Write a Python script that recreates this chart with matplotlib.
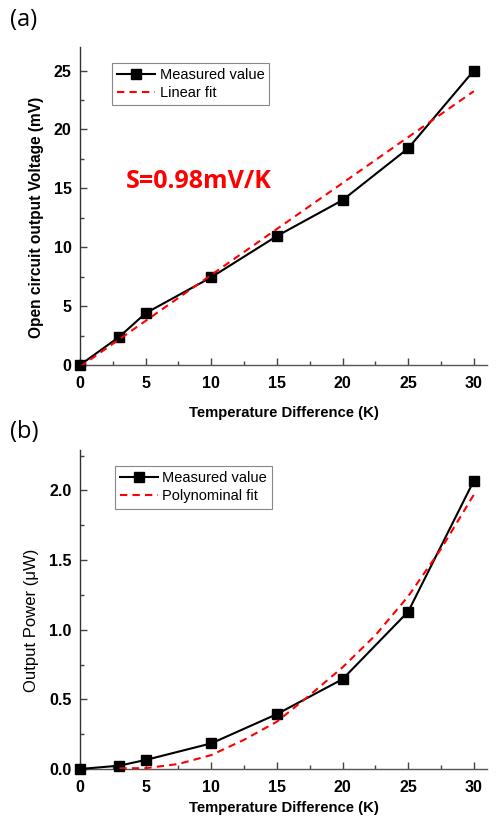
import matplotlib
matplotlib.use("Agg")
import matplotlib.pyplot as plt
from matplotlib.ticker import MultipleLocator

plt.rcParams['font.family'] = ['Liberation Sans', 'DejaVu Sans']

# Panel (a) data
dT_a = [0, 3, 5, 10, 15, 20, 25, 30]
voltage = [0, 2.4, 4.4, 7.45, 10.95, 14.0, 18.4, 25.0]
lin_fit_x = [0, 30]
lin_fit_y = [-0.15, 23.25]

# Panel (b) data
dT_b = [0, 3, 5, 10, 15, 20, 25, 30]
power = [0, 0.024, 0.065, 0.184, 0.394, 0.645, 1.13, 2.07]
poly_fit_x = [3, 5, 7.5, 10, 12.5, 15, 17.5, 20, 22.5, 25, 27.5, 30]
poly_fit_y = [0.005, 0.006, 0.036, 0.10, 0.21, 0.34, 0.53, 0.73, 0.96, 1.24, 1.58, 1.97]

fig = plt.figure(figsize=(4.97, 8.22), dpi=100)
W, H = 497, 822
def box(l, t, r, b):
    return [l / W, 1 - b / H, (r - l) / W, (b - t) / H]

ax1 = fig.add_axes(box(80, 47, 487, 365))
ax2 = fig.add_axes(box(80, 450, 487, 769))

TICK_FS = 11.5

def style(ax, ymax, ymaj, ymin):
    ax.set_xlim(0, 31)
    ax.set_ylim(0, ymax)
    for s in ['top', 'right']:
        ax.spines[s].set_visible(False)
    ax.spines['left'].set_color('#333333')
    ax.spines['bottom'].set_color('#555555')
    ax.spines['left'].set_linewidth(1.0)
    ax.spines['bottom'].set_linewidth(1.0)
    ax.xaxis.set_major_locator(MultipleLocator(5))
    ax.xaxis.set_minor_locator(MultipleLocator(2.5))
    ax.yaxis.set_major_locator(MultipleLocator(ymaj))
    ax.yaxis.set_minor_locator(MultipleLocator(ymin))
    ax.tick_params(which='major', direction='in', length=5, width=1, color='#444444')
    ax.tick_params(axis='x', which='major', pad=8)
    ax.tick_params(axis='y', which='major', pad=6)
    ax.tick_params(which='minor', direction='in', length=3, width=1, color='#444444')

# Panel (a)
ax1.plot(dT_a, voltage, color='black', lw=1.5, marker='s', ms=7, label='Measured value', zorder=3, clip_on=False)
ax1.plot(lin_fit_x, lin_fit_y, color='red', lw=1.5, ls=(0, (3.5, 2.5)), label='Linear fit', zorder=4)
style(ax1, 27, 5, 2.5)
ax1.set_yticks([0, 5, 10, 15, 20, 25])
ax1.set_yticklabels(['0', '5', '10', '15', '20', '25'], fontweight='bold', fontsize=TICK_FS)
ax1.set_xticks([0, 5, 10, 15, 20, 25, 30])
ax1.set_xticklabels(['0', '5', '10', '15', '20', '25', '30'], fontweight='bold', fontsize=TICK_FS)
ax1.set_xlabel('Temperature Difference (K)', fontsize=10.7, fontweight='bold', labelpad=11)
ax1.set_ylabel('Open circuit output Voltage (mV)', fontsize=11.2, fontweight='bold')
ax1.yaxis.set_label_coords(-0.088, 0.465)
leg1 = ax1.legend(loc='upper left', bbox_to_anchor=(0.079, 0.95), borderaxespad=0,
                  fancybox=False, framealpha=1, edgecolor='#888888', fontsize=10.5,
                  handlelength=2.6, handletextpad=0.3, borderpad=0.35, labelspacing=0.3)
leg1.get_frame().set_linewidth(0.8)
ax1.text(9.06, 15.6, 'S=0.98mV/K', color='red', fontsize=18, fontweight='bold',
         family=['Open Sans', 'DejaVu Sans'], ha='center', va='center')

# Panel (b)
ax2.plot(dT_b, power, color='black', lw=1.5, marker='s', ms=7, label='Measured value', zorder=3, clip_on=False)
ax2.plot(poly_fit_x, poly_fit_y, color='red', lw=1.5, ls=(0, (3.5, 2.5)), label='Polynominal fit', zorder=4)
style(ax2, 2.29, 0.5, 0.25)
ax2.set_yticks([0, 0.5, 1.0, 1.5, 2.0])
ax2.set_yticklabels(['0.0', '0.5', '1.0', '1.5', '2.0'], fontweight='bold', fontsize=TICK_FS)
ax2.set_xticks([0, 5, 10, 15, 20, 25, 30])
ax2.set_xticklabels(['0', '5', '10', '15', '20', '25', '30'], fontweight='bold', fontsize=TICK_FS)
ax2.set_xlabel('Temperature Difference (K)', fontsize=10.7, fontweight='bold', labelpad=4)
ax2.set_ylabel('Output Power (\u03bcW)', fontsize=12)
ax2.yaxis.set_label_coords(-0.100, 0.467)
leg2 = ax2.legend(loc='upper left', bbox_to_anchor=(0.086, 0.95), borderaxespad=0,
                  fancybox=False, framealpha=1, edgecolor='#888888', fontsize=10.5,
                  handlelength=2.6, handletextpad=0.3, borderpad=0.35, labelspacing=0.3)
leg2.get_frame().set_linewidth(0.8)

fig.text(10 / W, 1 - 20 / H, '(a)', fontsize=17, family=['Open Sans', 'DejaVu Sans'], va='center', ha='left')
fig.text(10 / W, 1 - 432 / H, '(b)', fontsize=17, family=['Open Sans', 'DejaVu Sans'], va='center', ha='left')

fig.savefig('out.png', dpi=100)
